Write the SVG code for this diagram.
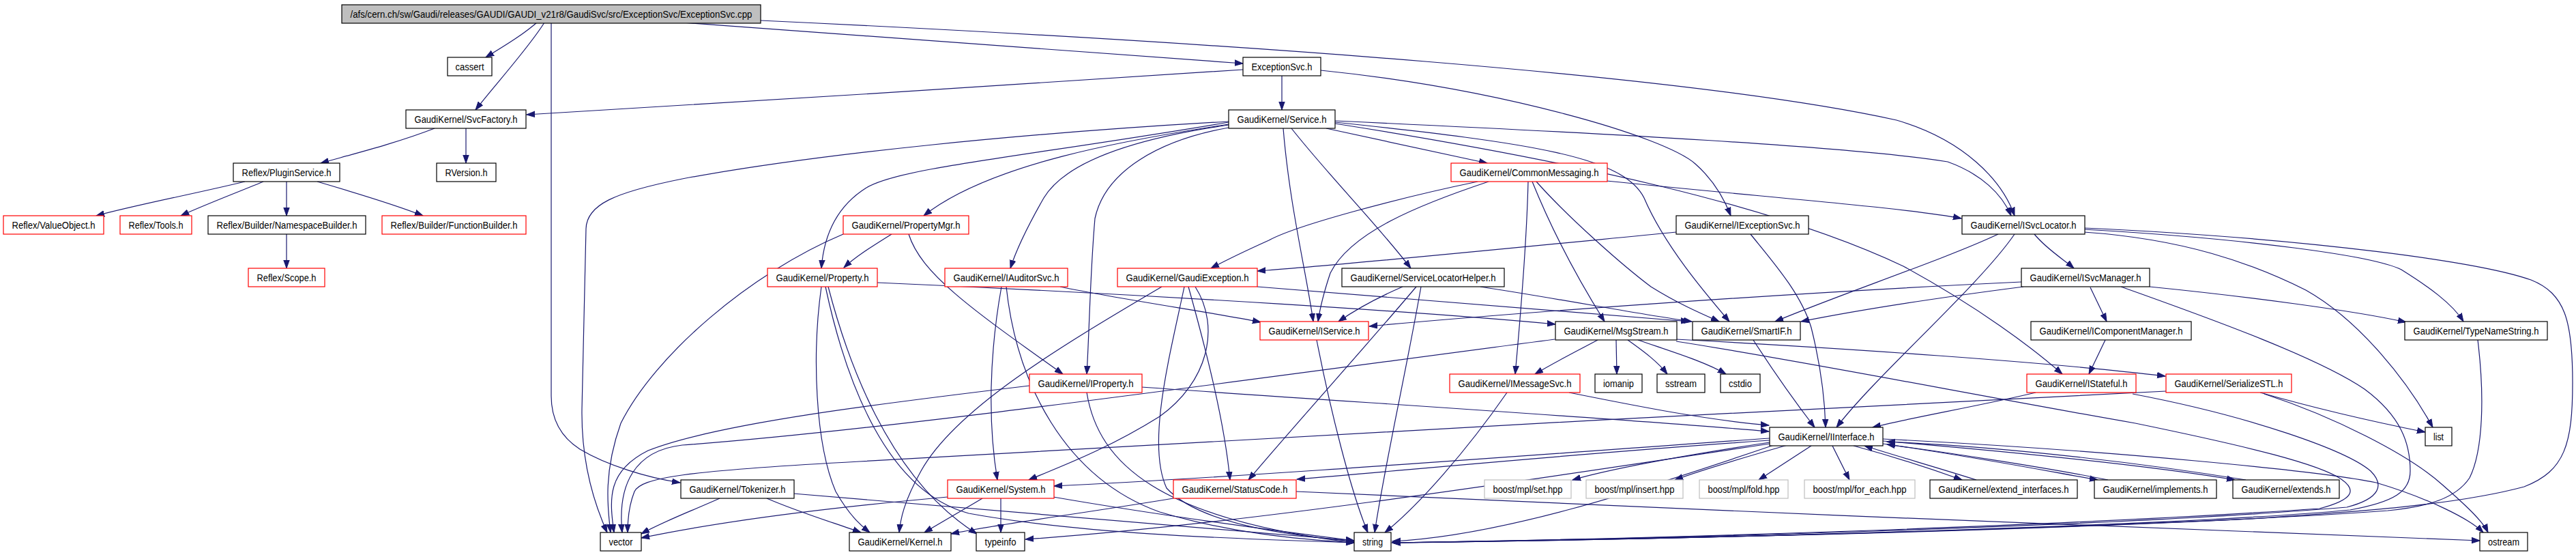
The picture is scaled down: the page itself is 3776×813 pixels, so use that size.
<svg xmlns="http://www.w3.org/2000/svg" width="3776" height="813" viewBox="0 0 3776 813">
<style>
.n rect{fill:#fff;stroke:#000;stroke-width:1.2}
.r rect{stroke:#f00}
.g rect{stroke:#bfbfbf}
.t rect{fill:#bfbfbf}
text{font-family:"Liberation Sans",Arial,sans-serif;font-size:14px;fill:#000;text-anchor:middle}
#edges path{fill:none;stroke:#191970;stroke-width:1.2;marker-end:url(#a)}
</style>
<defs>
<marker id="a" markerUnits="userSpaceOnUse" markerWidth="13" markerHeight="10" refX="12" refY="5" orient="auto"><path d="M0,0.8 L12,5 L0,9.2 z" fill="#191970" stroke="#191970"/></marker>
</defs>
<rect width="3776" height="813" fill="#fff"/>
<g id="edges">
<path d="M787,33 C765,52 738,68 712,84"/>
<path d="M798,33 C775,70 725,125 697,161"/>
<path d="M808,33 L808,580 C808,615 822,640 850,658 C890,682 950,700 997,707"/>
<path d="M1000,33 C1300,55 1600,75 1822,93"/>
<path d="M1115,30 C1800,62 2480,110 2780,176 C2880,205 2935,265 2953,316"/>
<path d="M637,188 C580,210 520,225 470,239"/>
<path d="M683,188 L683,239"/>
<path d="M359,266 C280,285 200,300 141,316"/>
<path d="M386,266 C340,285 300,300 265,316"/>
<path d="M420,266 L420,316"/>
<path d="M465,266 C530,285 580,300 620,316"/>
<path d="M420,343 L420,393"/>
<path d="M1822,102 C1500,122 1100,150 772,168"/>
<path d="M1879,111 L1879,161"/>
<path d="M1936,103 C2200,130 2440,200 2485,240 C2510,262 2527,290 2537,316"/>
<path d="M1957,177 C2350,195 2720,215 2855,237 C2905,255 2935,285 2948,316"/>
<path d="M1957,181 C2300,235 2600,300 2790,390 C2900,450 2980,510 3023,548"/>
<path d="M1944,188 L2180,239"/>
<path d="M1893,188 C1950,260 2020,330 2068,393"/>
<path d="M1881,188 C1890,300 1915,400 1925,471"/>
<path d="M1801,182 C1650,205 1450,240 1354,316"/>
<path d="M1801,183 C1650,205 1560,240 1530,290 C1510,325 1490,365 1481,393"/>
<path d="M1801,187 C1700,205 1620,250 1605,320 C1598,400 1597,480 1593,548"/>
<path d="M1801,179 C1500,230 1320,245 1270,275 C1230,300 1208,340 1204,393"/>
<path d="M1801,178 C1500,195 1200,225 1000,262 C900,282 860,300 859,335 L853,600 C852,680 872,740 890,780"/>
<path d="M1957,179 C2250,210 2380,230 2410,290 C2440,360 2500,430 2535,471"/>
<path d="M2182,266 C2080,300 1980,340 1950,400 C1940,430 1935,450 1932,471"/>
<path d="M2355,265 C2600,290 2800,305 2875,320"/>
<path d="M2166,266 C2050,290 1900,330 1860,352 C1820,370 1790,385 1775,393"/>
<path d="M2240,266 C2238,350 2230,450 2221,548"/>
<path d="M2246,266 C2280,350 2320,420 2352,471"/>
<path d="M2252,266 C2300,320 2380,390 2420,420 C2460,445 2495,460 2520,471"/>
<path d="M2457,340 C2200,365 1950,390 1843,397"/>
<path d="M2566,343 C2600,385 2640,430 2655,480 C2670,540 2675,590 2676,626"/>
<path d="M1703,420 C1550,510 1400,600 1350,690 C1325,735 1320,760 1318,780"/>
<path d="M1752,420 C1790,480 1770,560 1700,610 C1620,660 1550,685 1508,703"/>
<path d="M1742,420 C1770,520 1795,620 1803,703"/>
<path d="M1736,420 C1715,520 1680,650 1710,715 C1760,770 1900,785 1985,793"/>
<path d="M1843,420 C2100,440 2350,460 2476,471"/>
<path d="M1468,420 C1450,520 1448,620 1462,703"/>
<path d="M1475,420 C1490,560 1560,700 1700,750 C1800,780 1900,790 1985,795"/>
<path d="M1554,420 C1650,440 1780,458 1848,472"/>
<path d="M1509,565 C1300,590 1050,620 950,660 C890,690 893,730 900,780"/>
<path d="M1673,567 C2000,590 2400,615 2593,632"/>
<path d="M1593,575 C1610,680 1700,760 1985,795"/>
<path d="M1307,343 C1280,360 1255,375 1237,392"/>
<path d="M1332,343 C1350,400 1420,450 1558,548"/>
<path d="M1236,343 C1100,400 960,520 910,620 C885,690 890,740 895,780"/>
<path d="M1286,414 C1700,432 2100,458 2280,475"/>
<path d="M1204,420 C1190,520 1195,650 1225,720 C1245,755 1262,770 1275,780"/>
<path d="M1210,420 C1240,560 1300,720 1420,752 C1600,785 1850,790 1985,795"/>
<path d="M1214,420 C1240,520 1300,700 1432,782"/>
<path d="M1055,730 C1010,750 970,765 940,782"/>
<path d="M1124,730 C1170,750 1220,765 1262,780"/>
<path d="M1163,723 C1500,750 1800,775 1985,792"/>
<path d="M1389,728 C1200,745 1050,765 940,788"/>
<path d="M1440,730 C1410,748 1380,765 1355,780"/>
<path d="M1467,730 L1467,780"/>
<path d="M1544,728 C1700,755 1850,775 1985,792"/>
<path d="M1720,730 C1600,750 1450,770 1394,782"/>
<path d="M1900,720 C2400,745 3200,775 3635,792"/>
<path d="M2056,420 C2010,440 1985,455 1962,471"/>
<path d="M2170,420 C2300,440 2400,460 2480,471"/>
<path d="M2083,420 C2060,550 2030,680 2015,780"/>
<path d="M2076,420 C2000,510 1900,620 1830,703"/>
<path d="M1930,498 C1950,600 1980,720 2005,780"/>
<path d="M2963,413 C2600,430 2200,460 2007,478"/>
<path d="M2342,498 C2310,515 2280,530 2250,548"/>
<path d="M2369,498 L2370,548"/>
<path d="M2386,498 C2410,515 2430,530 2444,548"/>
<path d="M2401,498 C2450,515 2500,530 2530,548"/>
<path d="M2457,497 C2700,510 3000,530 3174,551"/>
<path d="M2279,497 C1800,560 1300,630 1000,652 C930,660 905,710 912,780"/>
<path d="M2457,500 C2650,530 2900,580 3130,620 C3300,655 3400,680 3432,702 C3455,718 3450,732 3400,745 C3000,772 2400,790 2041,795"/>
<path d="M3126,577 C3300,610 3440,660 3475,690 C3495,710 3490,730 3440,743 C3100,772 2400,790 2041,795"/>
<path d="M2300,575 C2400,595 2500,615 2593,623"/>
<path d="M2209,575 C2150,660 2080,740 2030,780"/>
<path d="M2570,498 C2610,560 2640,600 2660,626"/>
<path d="M2982,343 C3000,365 3025,380 3040,393"/>
<path d="M2929,343 C2850,380 2700,430 2602,471"/>
<path d="M2953,343 C2900,420 2750,550 2692,626"/>
<path d="M3055,336 C3300,350 3480,375 3520,395 C3560,420 3595,445 3611,471"/>
<path d="M3055,340 C3200,350 3300,385 3380,425 C3460,470 3530,560 3566,626"/>
<path d="M3055,334 C3400,350 3640,385 3710,410 C3760,430 3771,470 3771,560 C3771,650 3760,690 3700,713 C3600,740 3450,750 3300,760 C2900,780 2400,790 2041,795"/>
<path d="M3064,421 L3088,471"/>
<path d="M2966,420 C2850,435 2720,455 2640,471"/>
<path d="M3151,420 C3300,435 3450,455 3527,472"/>
<path d="M3109,420 C3250,470 3400,525 3466,570 C3520,610 3533,650 3533,690 C3533,720 3510,735 3445,747 C3200,770 2500,790 2041,795"/>
<path d="M3086,498 L3062,548"/>
<path d="M2984,575 C2900,595 2800,612 2745,626"/>
<path d="M3632,498 C3642,580 3640,660 3620,700 C3600,730 3560,742 3500,748 C3200,770 2500,790 2041,795"/>
<path d="M3313,575 C3400,600 3500,622 3555,633"/>
<path d="M3319,577 C3420,610 3530,665 3580,710 C3620,745 3640,765 3647,780"/>
<path d="M3175,573 C2600,600 1700,650 1260,676 C1000,690 940,700 930,720 C922,740 920,760 920,780"/>
<path d="M2594,642 C2200,670 1800,700 1545,712"/>
<path d="M2594,645 C2300,665 2050,690 1901,702"/>
<path d="M2594,650 C2200,710 1800,770 1503,790"/>
<path d="M2600,652 C2400,720 2200,785 2041,793"/>
<path d="M2594,648 C2450,670 2350,690 2305,703"/>
<path d="M2620,652 C2550,672 2490,690 2455,703"/>
<path d="M2655,653 L2578,703"/>
<path d="M2686,653 L2711,703"/>
<path d="M2717,653 C2780,670 2840,690 2876,703"/>
<path d="M2897,703 C2840,685 2780,668 2733,653"/>
<path d="M2760,650 C2900,670 3000,690 3075,703"/>
<path d="M3090,703 C3000,685 2850,662 2766,651"/>
<path d="M2760,646 C2950,662 3150,682 3276,703"/>
<path d="M3292,703 C3150,680 2950,655 2766,647"/>
<path d="M2760,643 C3100,660 3400,690 3483,707 C3560,730 3620,760 3640,780"/>
</g>
<g id="n_top" class="n t"><rect x="501" y="7" width="614" height="27"/><text x="808" y="25.5" textLength="589" lengthAdjust="spacingAndGlyphs">/afs/cern.ch/sw/Gaudi/releases/GAUDI/GAUDI_v21r8/GaudiSvc/src/ExceptionSvc/ExceptionSvc.cpp</text></g>
<g id="n_cassert" class="n"><rect x="656" y="84" width="65" height="27"/><text x="688.5" y="102.5" textLength="42" lengthAdjust="spacingAndGlyphs">cassert</text></g>
<g id="n_excsvch" class="n"><rect x="1822" y="84" width="114" height="27"/><text x="1879" y="102.5" textLength="89" lengthAdjust="spacingAndGlyphs">ExceptionSvc.h</text></g>
<g id="n_svcfactory" class="n"><rect x="595" y="161" width="176" height="27"/><text x="683" y="179.5" textLength="151" lengthAdjust="spacingAndGlyphs">GaudiKernel/SvcFactory.h</text></g>
<g id="n_service" class="n"><rect x="1801" y="161" width="156" height="27"/><text x="1879" y="179.5" textLength="131" lengthAdjust="spacingAndGlyphs">GaudiKernel/Service.h</text></g>
<g id="n_plugin" class="n"><rect x="342" y="239" width="156" height="27"/><text x="420" y="257.5" textLength="131" lengthAdjust="spacingAndGlyphs">Reflex/PluginService.h</text></g>
<g id="n_rversion" class="n"><rect x="640" y="239" width="87" height="27"/><text x="683.5" y="257.5" textLength="62" lengthAdjust="spacingAndGlyphs">RVersion.h</text></g>
<g id="n_commonmsg" class="n r"><rect x="2127" y="239" width="229" height="27"/><text x="2241.5" y="257.5" textLength="204" lengthAdjust="spacingAndGlyphs">GaudiKernel/CommonMessaging.h</text></g>
<g id="n_valueobject" class="n r"><rect x="5" y="316" width="147" height="27"/><text x="78.5" y="334.5" textLength="122" lengthAdjust="spacingAndGlyphs">Reflex/ValueObject.h</text></g>
<g id="n_tools" class="n r"><rect x="176" y="316" width="105" height="27"/><text x="228.5" y="334.5" textLength="80" lengthAdjust="spacingAndGlyphs">Reflex/Tools.h</text></g>
<g id="n_nsbuilder" class="n"><rect x="305" y="316" width="231" height="27"/><text x="420.5" y="334.5" textLength="206" lengthAdjust="spacingAndGlyphs">Reflex/Builder/NamespaceBuilder.h</text></g>
<g id="n_funcbuilder" class="n r"><rect x="560" y="316" width="211" height="27"/><text x="665.5" y="334.5" textLength="186" lengthAdjust="spacingAndGlyphs">Reflex/Builder/FunctionBuilder.h</text></g>
<g id="n_propmgr" class="n r"><rect x="1236" y="316" width="184" height="27"/><text x="1328" y="334.5" textLength="159" lengthAdjust="spacingAndGlyphs">GaudiKernel/PropertyMgr.h</text></g>
<g id="n_iexcsvc" class="n"><rect x="2457" y="316" width="194" height="27"/><text x="2554" y="334.5" textLength="169" lengthAdjust="spacingAndGlyphs">GaudiKernel/IExceptionSvc.h</text></g>
<g id="n_isvcloc" class="n"><rect x="2876" y="316" width="180" height="27"/><text x="2966" y="334.5" textLength="155" lengthAdjust="spacingAndGlyphs">GaudiKernel/ISvcLocator.h</text></g>
<g id="n_scope" class="n r"><rect x="364" y="393" width="112" height="27"/><text x="420" y="411.5" textLength="87" lengthAdjust="spacingAndGlyphs">Reflex/Scope.h</text></g>
<g id="n_property" class="n r"><rect x="1125" y="393" width="161" height="27"/><text x="1205.5" y="411.5" textLength="136" lengthAdjust="spacingAndGlyphs">GaudiKernel/Property.h</text></g>
<g id="n_iauditor" class="n r"><rect x="1385" y="393" width="180" height="27"/><text x="1475" y="411.5" textLength="155" lengthAdjust="spacingAndGlyphs">GaudiKernel/IAuditorSvc.h</text></g>
<g id="n_gaudiexc" class="n r"><rect x="1638" y="393" width="205" height="27"/><text x="1740.5" y="411.5" textLength="180" lengthAdjust="spacingAndGlyphs">GaudiKernel/GaudiException.h</text></g>
<g id="n_slhelper" class="n"><rect x="1967" y="393" width="238" height="27"/><text x="2086" y="411.5" textLength="213" lengthAdjust="spacingAndGlyphs">GaudiKernel/ServiceLocatorHelper.h</text></g>
<g id="n_isvcmgr" class="n"><rect x="2963" y="393" width="188" height="27"/><text x="3057" y="411.5" textLength="163" lengthAdjust="spacingAndGlyphs">GaudiKernel/ISvcManager.h</text></g>
<g id="n_iservice" class="n r"><rect x="1847" y="471" width="159" height="27"/><text x="1926.5" y="489.5" textLength="134" lengthAdjust="spacingAndGlyphs">GaudiKernel/IService.h</text></g>
<g id="n_msgstream" class="n"><rect x="2280" y="471" width="178" height="27"/><text x="2369" y="489.5" textLength="153" lengthAdjust="spacingAndGlyphs">GaudiKernel/MsgStream.h</text></g>
<g id="n_smartif" class="n"><rect x="2481" y="471" width="158" height="27"/><text x="2560" y="489.5" textLength="133" lengthAdjust="spacingAndGlyphs">GaudiKernel/SmartIF.h</text></g>
<g id="n_icompmgr" class="n"><rect x="2977" y="471" width="235" height="27"/><text x="3094.5" y="489.5" textLength="210" lengthAdjust="spacingAndGlyphs">GaudiKernel/IComponentManager.h</text></g>
<g id="n_typename" class="n"><rect x="3525" y="471" width="209" height="27"/><text x="3629.5" y="489.5" textLength="184" lengthAdjust="spacingAndGlyphs">GaudiKernel/TypeNameString.h</text></g>
<g id="n_iproperty" class="n r"><rect x="1509" y="548" width="165" height="27"/><text x="1591.5" y="566.5" textLength="140" lengthAdjust="spacingAndGlyphs">GaudiKernel/IProperty.h</text></g>
<g id="n_imsgsvc" class="n r"><rect x="2125" y="548" width="191" height="27"/><text x="2220.5" y="566.5" textLength="166" lengthAdjust="spacingAndGlyphs">GaudiKernel/IMessageSvc.h</text></g>
<g id="n_iomanip" class="n"><rect x="2338" y="548" width="69" height="27"/><text x="2372.5" y="566.5" textLength="45" lengthAdjust="spacingAndGlyphs">iomanip</text></g>
<g id="n_sstream" class="n"><rect x="2429" y="548" width="70" height="27"/><text x="2464" y="566.5" textLength="46" lengthAdjust="spacingAndGlyphs">sstream</text></g>
<g id="n_cstdio" class="n"><rect x="2522" y="548" width="58" height="27"/><text x="2551" y="566.5" textLength="34" lengthAdjust="spacingAndGlyphs">cstdio</text></g>
<g id="n_istateful" class="n r"><rect x="2971" y="548" width="160" height="27"/><text x="3051" y="566.5" textLength="135" lengthAdjust="spacingAndGlyphs">GaudiKernel/IStateful.h</text></g>
<g id="n_serialize" class="n r"><rect x="3175" y="548" width="184" height="27"/><text x="3267" y="566.5" textLength="159" lengthAdjust="spacingAndGlyphs">GaudiKernel/SerializeSTL.h</text></g>
<g id="n_iinterface" class="n"><rect x="2594" y="626" width="166" height="27"/><text x="2677" y="644.5" textLength="141" lengthAdjust="spacingAndGlyphs">GaudiKernel/IInterface.h</text></g>
<g id="n_list" class="n"><rect x="3555" y="626" width="39" height="27"/><text x="3574.5" y="644.5" textLength="15" lengthAdjust="spacingAndGlyphs">list</text></g>
<g id="n_tokenizer" class="n"><rect x="998" y="703" width="166" height="27"/><text x="1081" y="721.5" textLength="141" lengthAdjust="spacingAndGlyphs">GaudiKernel/Tokenizer.h</text></g>
<g id="n_system" class="n r"><rect x="1389" y="703" width="156" height="27"/><text x="1467" y="721.5" textLength="131" lengthAdjust="spacingAndGlyphs">GaudiKernel/System.h</text></g>
<g id="n_statuscode" class="n r"><rect x="1720" y="703" width="180" height="27"/><text x="1810" y="721.5" textLength="155" lengthAdjust="spacingAndGlyphs">GaudiKernel/StatusCode.h</text></g>
<g id="n_set" class="n g"><rect x="2176" y="703" width="127" height="27"/><text x="2239.5" y="721.5" textLength="102" lengthAdjust="spacingAndGlyphs">boost/mpl/set.hpp</text></g>
<g id="n_insert" class="n g"><rect x="2325" y="703" width="142" height="27"/><text x="2396" y="721.5" textLength="117" lengthAdjust="spacingAndGlyphs">boost/mpl/insert.hpp</text></g>
<g id="n_fold" class="n g"><rect x="2491" y="703" width="130" height="27"/><text x="2556" y="721.5" textLength="105" lengthAdjust="spacingAndGlyphs">boost/mpl/fold.hpp</text></g>
<g id="n_foreach" class="n g"><rect x="2645" y="703" width="162" height="27"/><text x="2726" y="721.5" textLength="137" lengthAdjust="spacingAndGlyphs">boost/mpl/for_each.hpp</text></g>
<g id="n_extintf" class="n"><rect x="2829" y="703" width="216" height="27"/><text x="2937" y="721.5" textLength="191" lengthAdjust="spacingAndGlyphs">GaudiKernel/extend_interfaces.h</text></g>
<g id="n_implements" class="n"><rect x="3070" y="703" width="179" height="27"/><text x="3159.5" y="721.5" textLength="154" lengthAdjust="spacingAndGlyphs">GaudiKernel/implements.h</text></g>
<g id="n_extends" class="n"><rect x="3273" y="703" width="156" height="27"/><text x="3351" y="721.5" textLength="131" lengthAdjust="spacingAndGlyphs">GaudiKernel/extends.h</text></g>
<g id="n_vector" class="n"><rect x="880" y="780" width="60" height="27"/><text x="910" y="798.5" textLength="35" lengthAdjust="spacingAndGlyphs">vector</text></g>
<g id="n_kernel" class="n"><rect x="1245" y="780" width="149" height="27"/><text x="1319.5" y="798.5" textLength="124" lengthAdjust="spacingAndGlyphs">GaudiKernel/Kernel.h</text></g>
<g id="n_typeinfo" class="n"><rect x="1431" y="780" width="71" height="27"/><text x="1466.5" y="798.5" textLength="46" lengthAdjust="spacingAndGlyphs">typeinfo</text></g>
<g id="n_string" class="n"><rect x="1985" y="780" width="54" height="27"/><text x="2012" y="798.5" textLength="30" lengthAdjust="spacingAndGlyphs">string</text></g>
<g id="n_ostream" class="n"><rect x="3635" y="780" width="70" height="27"/><text x="3670" y="798.5" textLength="46" lengthAdjust="spacingAndGlyphs">ostream</text></g>
</svg>
